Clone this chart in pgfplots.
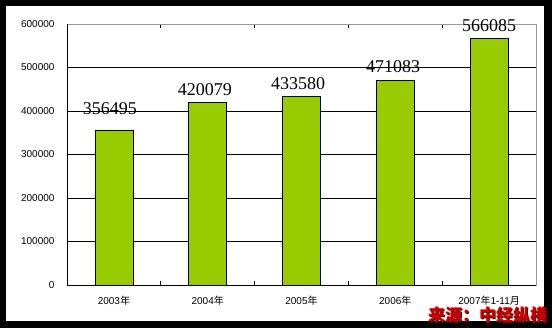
\documentclass[border=0pt]{standalone}
\usepackage{pgfplots}
\pgfplotsset{compat=1.18}
\usepackage{fontspec}
\setmainfont{Liberation Sans}
\newfontfamily\cjk{Noto Sans CJK SC}
\newfontfamily\serif{Liberation Serif}
\definecolor{bargreen}{RGB}{153,204,0}
\definecolor{srcred}{RGB}{204,0,0}
\begin{document}
\begin{tikzpicture}[x=1pt,y=1pt]
\useasboundingbox (0,0) rectangle (552,328);
\fill[black] (0,0) rectangle (552,328);
\fill[white] (6,7) rectangle (544,322);
\begin{axis}[
  at={(67pt,43pt)}, anchor=south west,
  scale only axis, width=469pt, height=261pt,
  xmin=-0.5, xmax=4.5, ymin=0, ymax=600000,
  clip=false,
  axis line style={draw=gray!80, line width=0.7pt},
  ytick={0,100000,200000,300000,400000,500000,600000},
  scaled y ticks=false,
  /pgf/number format/.cd, fixed, 1000 sep={}, assume math mode=true,
  /pgfplots/.cd,
  ymajorgrids, major grid style={black, line width=0.7pt},
  major y tick style={draw=none},
  xtick={0,1,2,3,4},
  xticklabels={2003{\cjk 年}, 2004{\cjk 年}, 2005{\cjk 年}, 2006{\cjk 年}, 2007{\cjk 年}1-11{\cjk 月}},
  major x tick style={draw=none},
  minor xtick={0.5,1.5,2.5,3.5},
  minor tick length=4pt,
  minor x tick style={black, line width=0.7pt},
  tick align=inside,
  yticklabel style={font=\fontsize{10}{12}\selectfont, xshift=-9pt},
  xticklabel style={font=\fontsize{10}{12}\selectfont, yshift=-8pt},
]
\addplot[ybar, bar width=38pt, fill=bargreen, draw=black, line width=0.7pt]
  coordinates {(0,356495) (1,420079) (2,433580) (3,471083) (4,566085)};
\addplot[draw=none, mark=none, nodes near coords, nodes near coords align={center},
  point meta=explicit symbolic,
  every node near coord/.append style={font=\serif\fontsize{18}{20}\selectfont, inner sep=0pt, anchor=center}]
  coordinates {(-0.042,404600)[356495] (0.971,448276)[420079] (1.963,462069)[433580] (2.976,501149)[471083] (3.999,595402)[566085]};
\draw[black, line width=0.7pt] (rel axis cs:0,1) -- (rel axis cs:0,0) -- (rel axis cs:1,0);
\end{axis}
\node[text=black!70!red, font=\cjk\bfseries\fontsize{17}{19}\selectfont] at (488.5,12) {来源：中经纵横};
\node[text=srcred, font=\cjk\bfseries\fontsize{17}{19}\selectfont] at (487.5,13) {来源：中经纵横};
\end{tikzpicture}
\end{document}
